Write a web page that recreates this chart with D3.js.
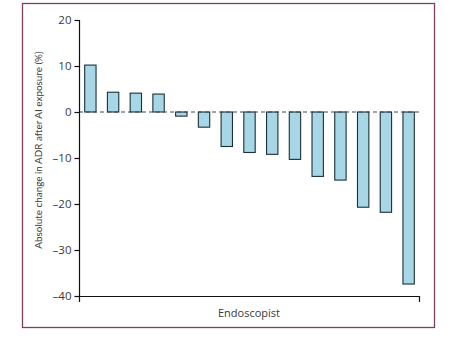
<!DOCTYPE html>
<html><head><meta charset="utf-8">
<script src="https://cdn.jsdelivr.net/npm/d3@7"></script>
<style>
html,body{margin:0;padding:0;background:#fff;}
svg{display:block;font-family:"Open Sans",sans-serif;}
</style></head>
<body>
<svg id="c" width="453" height="339"></svg>
<script>
const endoscopists = ["E1","E2","E3","E4","E5","E6","E7","E8","E9","E10","E11","E12","E13","E14","E15"];
const adrChange = [10.2, 4.3, 4.1, 3.9, -0.9, -3.3, -7.5, -8.8, -9.2, -10.3, -14.0, -14.8, -20.7, -21.8, -37.4];
const yTicks = [20, 10, 0, -10, -20, -30, -40];
const yLabel = "Absolute change in ADR after AI exposure (%)";
const xLabel = "Endoscopist";

const svg = d3.select("#c");
// frame
svg.append("rect").attr("x",22.5).attr("y",3.5).attr("width",412).attr("height",324)
  .attr("fill","none").attr("stroke","#7e3e62").attr("stroke-width",1.3);

const x = d3.scaleBand().domain(endoscopists).range([79,420]).paddingInner(0.5).paddingOuter(0.25);
const y = d3.scaleLinear().domain([-40,20]).range([296,20]);

// bars
svg.append("g").selectAll("rect").data(adrChange).join("rect")
  .attr("x",(d,i)=>x(endoscopists[i]))
  .attr("width",x.bandwidth())
  .attr("y",d=>y(Math.max(0,d)))
  .attr("height",d=>Math.abs(y(d)-y(0)))
  .attr("fill","#a7d7e6").attr("stroke","#1c2f36").attr("stroke-width",1.1);

// zero dashed line
svg.append("line").attr("x1",79).attr("x2",420).attr("y1",y(0)).attr("y2",y(0))
  .attr("stroke","#3b4a50").attr("stroke-width",1).attr("stroke-dasharray","4,3");

// y axis
const ya = svg.append("g").attr("transform","translate(79.5,0)")
  .call(d3.axisLeft(y).tickValues(yTicks).tickSize(5).tickPadding(3).tickSizeOuter(0)
    .tickFormat(d=> d<0 ? "\u2013"+Math.abs(d) : d));
ya.select(".domain").attr("d","M0,"+y(20)+"V302").attr("stroke","#111").attr("stroke-width",1.2);
ya.selectAll(".tick line").attr("stroke","#111").attr("stroke-width",1.2);
ya.selectAll(".tick text").attr("fill","#3a3a3a").attr("font-size",11.5).attr("font-family","Open Sans, sans-serif");

// x axis
svg.append("path").attr("d","M79,296.5H419.5V302").attr("fill","none").attr("stroke","#111").attr("stroke-width",1.2);

// labels
svg.append("text").attr("transform","translate(39,150) rotate(-90)").attr("text-anchor","middle")
  .attr("font-size",9.9).attr("font-family","Lato, sans-serif").attr("fill","#3a3a3a")
  .attr("dominant-baseline","middle").text(yLabel);
svg.append("text").attr("x",249).attr("y",314).attr("text-anchor","middle").attr("dominant-baseline","middle")
  .attr("font-size",11).attr("fill","#3a3a3a").text(xLabel);
</script>
</body></html>
